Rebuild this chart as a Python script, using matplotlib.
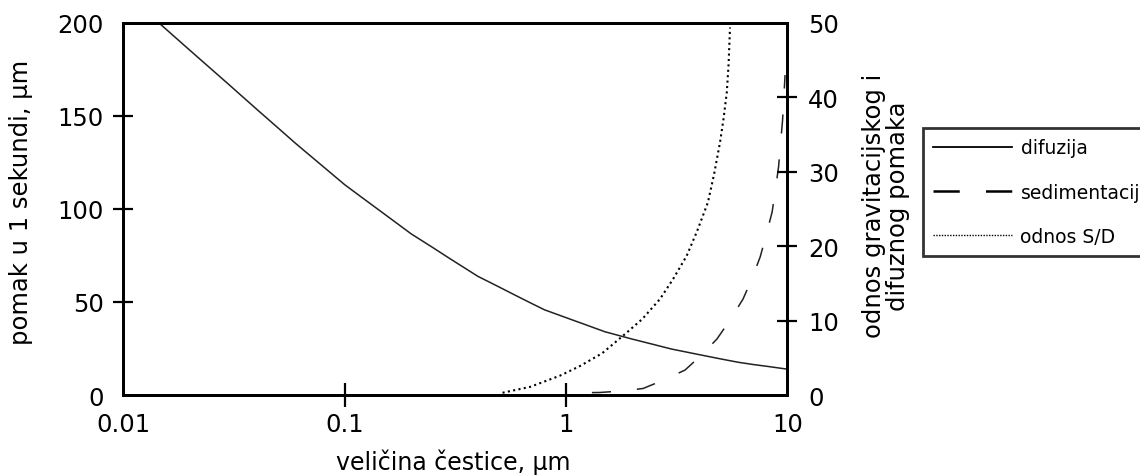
import matplotlib
matplotlib.use("Agg")
import matplotlib.pyplot as plt
from matplotlib.lines import Line2D

plt.rcParams['font.family'] = ['DejaVu Sans']

# ---- data ----
size_dif = [0.0145, 0.02, 0.03, 0.04, 0.05, 0.06, 0.07, 0.08, 0.1, 0.12, 0.15,
            0.2, 0.25, 0.3, 0.4, 0.5, 0.6, 0.7, 0.8, 1, 1.2, 1.5, 2, 2.5, 3,
            4, 5, 6, 7, 8, 10]
pomak_dif = [200, 185.3, 166.9, 153.7, 143.6, 135.3, 128.6, 122.8, 113.1, 106.1,
             97.6, 86.6, 79.3, 73.2, 63.8, 58.0, 53.2, 49.2, 45.8, 41.6, 38.2,
             34.0, 30.0, 27.1, 24.7, 21.7, 19.4, 17.6, 16.4, 15.5, 13.9]

size_sed = [1.31, 1.42, 1.79, 2.23, 2.77, 3.45, 4.07, 4.81, 5.51, 6.31, 6.90,
            7.54, 8.02, 8.54, 8.83, 9.13, 9.52, 9.77]
pomak_sed = [1.3, 1.35, 2.15, 3.5, 8.1, 13.4, 21.2, 30.1, 40.3, 51.6, 62.1,
             74.2, 85.8, 98.4, 110.2, 122.6, 147.8, 172.0]

size_ratio = [0.517, 0.69, 0.94, 1.158, 1.456, 1.85, 2.21, 2.66, 3.05, 3.51,
              3.91, 4.38, 4.67, 4.97, 5.15, 5.33, 5.43, 5.51]
ratio_sd = [0.3, 1.1, 2.6, 3.9, 5.6, 8.2, 10.2, 12.9, 15.6, 18.7, 22.0, 25.9,
            29.7, 34.0, 37.1, 40.7, 44.5, 49.4]

x_ticks = [0.01, 0.1, 1, 10]
x_tick_labels = ['0.01', '0.1', '1', '10']
left_ticks = [0, 50, 100, 150, 200]
right_ticks = [0, 10, 20, 30, 40, 50]

labels = ['difuzija', 'sedimentacija', 'odnos S/D']

# ---- figure ----
W, H = 1140, 477
fig = plt.figure(figsize=(W / 100, H / 100), dpi=100)
L, R, T, B = 123.3, 787.3, 24, 396
ax = fig.add_axes([L / W, 1 - B / H, (R - L) / W, (B - T) / H])
ax2 = ax.twinx()

FS = 17.5
dash_style = (0, (12.5, 17))
dot_style = (0, (1, 1.6))

ax.plot(size_dif, pomak_dif, color='#222222', lw=1.1)
ax.plot(size_sed, pomak_sed, color='#222222', lw=1.1, linestyle=dash_style)
ax2.plot(size_ratio, ratio_sd, color='black', lw=1.5, linestyle=dot_style)

ax.set_xscale('log')
ax.set_xlim(0.01, 10)
ax.set_ylim(0, 200)
ax2.set_ylim(0, 50)

ax.set_xticks(x_ticks)
ax.set_xticklabels(x_tick_labels)
ax.xaxis.set_minor_locator(matplotlib.ticker.NullLocator())
ax.set_yticks(left_ticks)
ax.set_yticklabels([str(v) for v in left_ticks])
ax2.set_yticks(right_ticks)
ax2.set_yticklabels([str(v) for v in right_ticks])

for a in (ax, ax2):
    for s in a.spines.values():
        s.set_linewidth(2.0)
        s.set_color('black')

ax.tick_params(axis='x', direction='inout', length=17, width=1.6, pad=3.5,
               labelsize=FS, colors='black')
ax.tick_params(axis='y', direction='inout', length=15, width=1.6, pad=6.5,
               labelsize=FS, colors='black')
ax2.tick_params(axis='y', direction='inout', length=15, width=1.6, pad=7.5,
                labelsize=FS, colors='black')

# hide tick marks at the axis ends
for tk in (ax.xaxis.get_major_ticks()[0], ax.xaxis.get_major_ticks()[-1],
           ax.yaxis.get_major_ticks()[0], ax.yaxis.get_major_ticks()[-1],
           ax2.yaxis.get_major_ticks()[0], ax2.yaxis.get_major_ticks()[-1]):
    tk.tick1line.set_visible(False)
    tk.tick2line.set_visible(False)

# axis labels
fig.text(21 / W, 1 - 202 / H, 'pomak u 1 sekundi, µm', rotation=90,
         ha='center', va='center', fontsize=FS)
fig.text(453 / W, 1 - 470 / H, 'veličina čestice, µm',
         ha='center', va='baseline', fontsize=17)
fig.text(886 / W, 1 - 206 / H, 'odnos gravitacijskog i\ndifuznog pomaka',
         rotation=90, ha='center', va='center', fontsize=FS,
         multialignment='center', linespacing=0.95)

handles = [
    Line2D([], [], color='black', lw=1.3),
    Line2D([], [], color='black', lw=1.8, linestyle=(0, (10.5, 10.5))),
    Line2D([], [], color='black', lw=1.0, linestyle=(0, (1, 1))),
]
leg = fig.legend(handles, labels, loc='upper left',
                 bbox_to_anchor=(923 / W, 1 - 129 / H),
                 frameon=True, fancybox=False, shadow=False,
                 fontsize=13.5, handlelength=4.2, handletextpad=0.45,
                 labelspacing=1.35, borderpad=0.55, borderaxespad=0)
leg.get_frame().set_edgecolor('black')
leg.get_frame().set_linewidth(2.0)

fig.savefig('out.png', dpi=100)
